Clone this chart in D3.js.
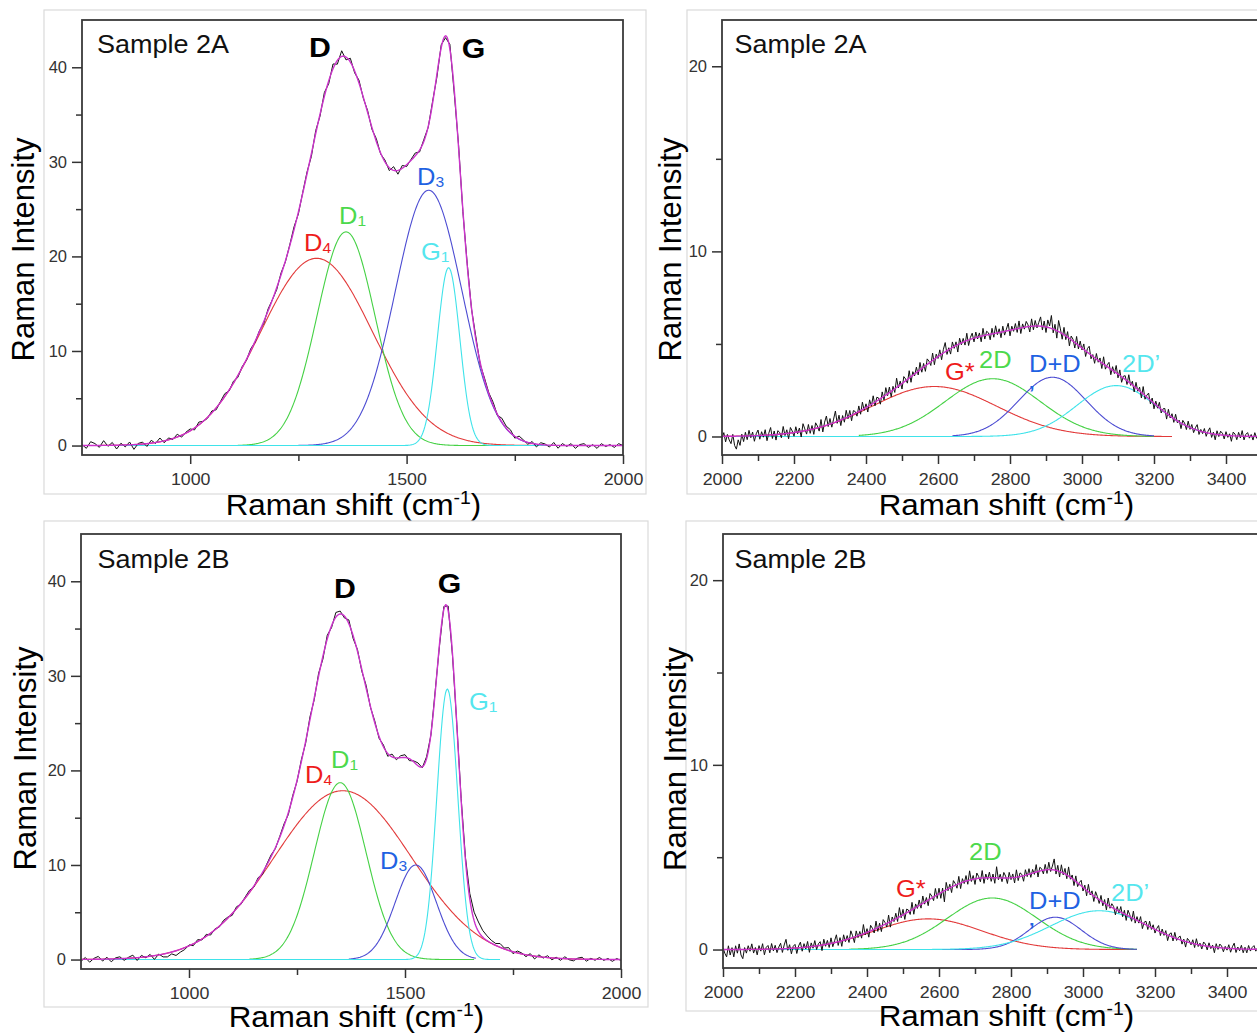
<!DOCTYPE html>
<html><head><meta charset="utf-8">
<script src="https://cdn.jsdelivr.net/npm/d3@7"></script>
<style>
body{margin:0;background:#fff}
svg{display:block}
text{font-family:"Liberation Sans",Arial,sans-serif}
</style></head>
<body><svg id="c" width="1257" height="1033"></svg>
<script>
// ---------------- DATA ----------------
// tick labels
const xTicksFirst = [1000, 1500, 2000];
const xMinorFirst = [1250, 1750];
const xTicksSecond = [2000, 2200, 2400, 2600, 2800, 3000, 3200, 3400];
const xMinorSecond = [2100, 2300, 2500, 2700, 2900, 3100, 3300, 3500];
const yTicksFirst = [0, 10, 20, 30, 40];
const yMinorFirst = [5, 15, 25, 35];
const yTicksSecond = [0, 10, 20];
const yMinorSecond = [5, 15];

// band labels (main, subscript)
const bandsFirst = [["D", "4"], ["D", "1"], ["D", "3"], ["G", "1"]];
const bandsSecond = [["G*", ""], ["2D", ""], ["D+D", ""], ["2D\u2019", ""]];

// Sample 2A, first order: fitted peaks (centre cm-1, height, FWHM cm-1, drawn range)
const centre2A1 = [1292, 1360, 1551, 1597];
const height2A1 = [19.8, 22.6, 27.0, 18.8];
const fwhm2A1 = [305, 158, 181, 61];
const from2A1 = [750, 1110, 1250, 750];
const to2A1 = [1790, 1700, 1800, 1900];
// measured minus fit (every 10 cm-1 from 750)
const resid2A1 = [
 0.1,-0.3,0.4,0.2,-0.2,0.5,-0.1,0.3,-0.4,0.2,
 -0.2,0.3,-0.5,0.1,0.2,-0.3,0.3,-0.1,0.4,-0.2,
 0.2,-0.1,0.3,-0.2,0.1,0.2,-0.2,0.3,0.0,-0.1,
 0.2,-0.2,0.1,0.3,-0.1,0.2,-0.2,0.1,-0.1,0.2,
 -0.1,0.1,-0.2,0.2,0.0,-0.2,0.2,-0.1,0.1,0.3,
 -0.2,0.1,0.2,-0.3,0.3,-0.2,0.4,-0.3,0.5,-0.4,
 0.6,-0.3,0.4,-0.2,0.3,-0.1,0.2,-0.2,0.3,-0.1,
 0.2,-0.3,0.4,-0.4,0.3,-0.2,0.1,0.3,-0.2,0.2,
 -0.1,0.2,-0.3,0.3,-0.2,0.5,-0.4,0.3,-0.2,0.2,
 -0.1,0.3,-0.2,0.2,0.1,0.3,-0.1,0.4,0.2,0.3,
 -0.2,0.3,0.1,-0.2,0.2,-0.3,0.2,0.1,-0.2,0.3,
 -0.3,0.2,-0.1,0.2,-0.3,0.1,0.2,-0.2,0.1,-0.3,
 0.2,-0.1,0.1,-0.2,0.2,0.0];

// Sample 2B, first order
const centre2B1 = [1356, 1350, 1525, 1598];
const height2B1 = [17.85, 18.7, 10.0, 28.6];
const fwhm2B1 = [374, 141, 112, 57];
const from2B1 = [750, 1140, 1370, 750];
const to2B1 = [1950, 1660, 1665, 1720];
const resid2B1 = [
 -0.2,0.2,-0.3,0.1,0.3,-0.2,0.2,-0.3,0.1,0.2,
 -0.2,0.1,0.3,-0.3,0.2,-0.1,0.2,-0.4,0.1,-0.3,
 -0.4,-0.2,-0.5,-0.3,-0.2,0.1,-0.2,0.2,-0.1,0.2,
 -0.2,0.1,-0.1,0.2,0.1,-0.2,0.2,-0.1,0.1,0.2,
 -0.1,0.2,-0.2,0.1,0.2,-0.1,0.1,0.2,-0.2,0.2,
 -0.1,0.2,-0.2,0.3,-0.2,0.3,-0.3,0.4,-0.2,0.5,
 0.3,-0.2,0.4,-0.3,0.2,-0.2,0.3,-0.1,0.2,-0.2,
 0.2,-0.3,0.3,-0.2,0.2,0.3,-0.2,0.1,0.3,-0.1,
 0.2,-0.1,0.2,-0.2,0.3,0.5,-0.2,0.1,0.2,0.3,
 0.6,0.9,1.0,0.7,0.5,0.3,0.2,0.4,0.1,0.3,
 -0.2,0.2,0.1,-0.2,0.2,-0.3,0.2,-0.1,0.2,-0.2,
 0.1,-0.2,0.2,-0.1,-0.2,0.1,0.2,-0.2,0.1,-0.1,
 0.2,-0.1,0.1,-0.2,0.1,-0.1];

// Sample 2A, second order
const centre2A2 = [2590, 2752, 2918, 3095];
const height2A2 = [2.7, 3.12, 3.2, 2.75];
const fwhm2A2 = [407, 311, 221, 259];
const from2A2 = [2000, 2380, 2640, 2000];
const to2A2 = [3250, 3200, 3200, 3350];
// measured minus fit (every 5 cm-1 from 2000)
const resid2A2 = [
 -0.1,0.2,-0.3,0.1,-0.2,-0.4,0.1,-0.5,-0.7,-0.2,
 -0.5,0.1,-0.3,0.2,-0.2,0.3,-0.1,0.2,-0.3,0.1,
 0.3,-0.2,0.2,-0.1,0.3,-0.3,0.1,0.4,-0.2,0.2,
 -0.3,0.2,0.1,-0.2,0.4,-0.1,0.2,-0.3,0.3,0.1,
 -0.2,0.3,-0.1,0.2,-0.3,0.4,0.1,-0.2,0.3,-0.2,
 0.2,-0.3,0.3,0.1,-0.2,0.4,-0.3,0.2,0.5,-0.1,
 0.3,-0.2,0.2,0.6,-0.1,0.3,-0.3,0.2,-0.2,0.4,
 -0.1,0.3,-0.3,0.2,0.1,-0.2,0.3,-0.2,0.4,-0.1,
 0.2,-0.3,0.3,-0.1,0.4,-0.2,0.2,0.1,-0.3,0.3,
 -0.2,0.4,-0.1,0.3,-0.3,0.2,-0.2,0.5,-0.1,0.2,
 -0.3,0.3,0.1,-0.2,0.4,-0.3,0.2,-0.1,0.3,-0.2,
 0.4,-0.2,0.2,-0.3,0.3,0.1,-0.2,0.4,-0.3,0.2,
 -0.1,0.3,-0.3,0.2,0.5,-0.2,0.1,-0.3,0.3,-0.1,
 0.2,-0.4,0.3,-0.1,0.2,-0.2,0.4,-0.3,0.1,0.3,
 -0.2,0.3,-0.1,0.2,-0.3,0.4,-0.2,0.2,0.1,-0.3,
 0.3,-0.2,0.4,-0.1,0.2,-0.3,0.3,-0.2,0.1,0.4,
 -0.3,0.2,-0.1,0.3,-0.2,0.4,-0.3,0.2,-0.1,0.3,
 0.1,-0.3,0.4,-0.2,0.3,-0.1,0.2,0.5,-0.2,0.3,
 -0.3,0.4,0.1,0.7,-0.2,0.3,-0.4,0.6,0.2,-0.3,
 0.4,-0.2,0.3,-0.4,0.2,0.1,-0.3,0.4,-0.2,0.3,
 -0.1,0.3,-0.3,0.2,0.4,-0.2,0.1,-0.3,0.3,-0.1,
 0.2,-0.3,0.4,-0.2,0.1,0.3,-0.3,0.2,-0.1,0.4,
 -0.2,0.3,-0.3,0.1,0.2,-0.2,0.4,-0.1,0.2,-0.3,
 0.3,-0.1,0.2,-0.3,0.4,-0.2,0.1,0.3,-0.2,0.2,
 -0.3,0.2,-0.1,0.3,-0.2,0.1,0.2,-0.3,0.3,-0.1,
 0.2,-0.2,0.3,-0.1,0.1,-0.3,0.2,0.1,-0.2,0.3,
 -0.1,0.2,-0.2,0.1,0.3,-0.2,0.1,-0.1,0.2,-0.2,
 0.1,0.3,-0.2,0.1,-0.3,0.2,-0.1,0.2,0.1,-0.2,
 0.2,-0.1,0.1,-0.3,0.2,0.1,-0.2,0.2,-0.1,0.3,
 -0.2,0.1,0.2,-0.1,0.1,-0.2,0.2,-0.1,0.1,-0.2,
 0.1];

// Sample 2B, second order
const centre2B2 = [2570, 2748, 2923, 3045];
const height2B2 = [1.66, 2.79, 1.75, 2.1];
const fwhm2B2 = [353, 294, 170, 318];
const from2B2 = [2000, 2350, 2570, 2000];
const to2B2 = [3150, 3150, 3150, 3140];
const resid2B2 = [
 0.1,-0.2,-0.4,0.2,-0.3,0.1,-0.4,0.2,-0.2,0.3,
 -0.3,-0.5,0.1,-0.2,0.2,-0.1,0.3,-0.2,0.1,-0.3,
 0.2,-0.1,0.3,-0.3,0.1,0.2,-0.2,0.3,-0.1,0.2,
 -0.2,0.1,0.3,-0.2,0.2,0.5,-0.1,0.2,-0.3,0.1,
 0.2,-0.3,0.1,0.3,-0.2,0.2,-0.1,0.3,-0.3,0.2,
 -0.1,0.3,-0.2,0.1,0.2,-0.3,0.3,-0.1,0.2,-0.2,
 0.3,-0.2,0.1,0.4,-0.2,0.2,-0.3,0.3,-0.1,0.2,
 -0.2,0.4,0.1,-0.3,0.3,-0.1,0.2,-0.2,0.5,-0.1,
 0.2,-0.3,0.3,0.1,-0.2,0.4,-0.2,0.2,-0.3,0.3,
 0.1,-0.2,0.4,-0.3,0.2,-0.1,0.3,-0.2,0.5,-0.1,
 0.3,-0.3,0.2,0.1,-0.2,0.4,-0.3,0.2,-0.1,0.3,
 -0.2,0.4,-0.1,0.2,-0.3,0.3,0.1,-0.2,0.4,-0.2,
 0.3,-0.3,0.2,-0.6,0.4,-0.1,0.2,-0.3,0.3,0.1,
 -0.2,0.4,-0.3,0.2,-0.1,0.3,-0.2,0.5,-0.1,0.2,
 -0.3,0.3,0.1,-0.2,0.4,-0.3,0.2,-0.1,0.3,-0.2,
 0.2,-0.3,0.6,-0.1,0.2,-0.2,0.3,0.1,-0.3,0.3,
 -0.1,0.2,-0.3,0.4,-0.2,0.2,0.1,-0.3,0.3,-0.1,
 0.3,-0.2,0.2,-0.1,0.4,-0.3,0.2,0.1,-0.2,0.3,
 -0.2,0.4,-0.1,0.2,0.6,-0.2,0.3,-0.3,0.4,-0.1,
 0.3,-0.2,0.5,-0.1,0.2,-0.3,0.3,-0.2,0.1,0.3,
 -0.2,0.2,-0.3,0.4,-0.1,0.2,-0.3,0.3,0.1,-0.2,
 0.3,-0.2,0.2,-0.3,0.4,-0.1,0.2,0.1,-0.3,0.2,
 -0.1,0.3,-0.2,0.2,-0.3,0.3,0.1,-0.2,0.4,-0.2,
 0.2,-0.1,0.3,-0.3,0.1,0.2,-0.2,0.3,-0.1,0.2,
 -0.2,0.1,0.3,-0.2,0.2,-0.1,0.2,-0.3,0.1,0.2,
 -0.2,0.3,-0.1,0.1,0.2,-0.2,0.1,-0.3,0.2,0.1,
 -0.1,0.2,-0.2,0.3,-0.1,0.1,-0.2,0.2,0.1,-0.2,
 0.2,-0.1,0.1,-0.3,0.2,-0.1,0.2,0.1,-0.2,0.1,
 -0.1,0.2,-0.2,0.1,0.3,-0.2,0.1,-0.1,0.2,-0.2,
 0.1,-0.2,0.2,-0.1,0.1,0.2,-0.1,0.1,-0.2,0.1,
 0.0];

// ---------------- STYLE / LAYOUT ----------------
const curveColors = ["#e23a3a", "#45d145", "#4c4cd2", "#3fe3ea"];
const labelColors = ["#ee1c1c", "#4cd94c", "#1f62e2", "#55e6ee"];
const FONT = '"Liberation Sans", Arial, sans-serif';
const SX = 1.08;

const svg = d3.select("#c");

function gauss(xv, c, h, w) {
  const d = xv - c;
  return h * Math.exp(-4 * Math.LN2 * d * d / (w * w));
}

function txt(g, x, y, size, color, weight, anchor, parts, sx) {
  const t = g.append("text")
    .attr("transform", `translate(${x},${y}) scale(${sx === undefined ? SX : sx},1)`)
    .attr("font-size", size).attr("fill", color)
    .attr("font-weight", weight).attr("text-anchor", anchor);
  parts.forEach(p => {
    const ts = t.append("tspan").text(p.t);
    if (p.size) ts.attr("font-size", p.size);
    if (p.dy) ts.attr("dy", p.dy);
  });
  return t;
}

const panels = [
  { id: "a1", frame: [82, 20, 623, 455], border: [44, 10, 646, 494], xd: [750, 2000], yd: [-1, 45],
    xt: xTicksFirst, xm: xMinorFirst, yt: yTicksFirst, ym: yMinorFirst,
    centre: centre2A1, height: height2A1, fwhm: fwhm2A1, from: from2A1, to: to2A1, resid: resid2A1, rstep: 10,
    bands: bandsFirst, sample: "Sample 2A", samplePos: [97, 53.3],
    bandPos: [[304, 251], [339, 224], [417, 185], [421, 259.5]],
    peakTags: [["D", 309, 56.7], ["G", 461.7, 57.5]],
    xTitle: [353.5, 515], yTitle: [33.5, 249.5] },
  { id: "a2", frame: [722, 20, 1262, 455], border: [687, 10, 1262, 494], xd: [2000, 3500], yd: [-1, 22.5],
    xt: xTicksSecond, xm: xMinorSecond, yt: yTicksSecond, ym: yMinorSecond,
    centre: centre2A2, height: height2A2, fwhm: fwhm2A2, from: from2A2, to: to2A2, resid: resid2A2, rstep: 5,
    bands: bandsSecond, sample: "Sample 2A", samplePos: [734.5, 53.3],
    bandPos: [[945, 380], [979, 368], [1029, 372], [1122, 372]],
    stray: [1029, 400],
    peakTags: [],
    xTitle: [1006.5, 515], yTitle: [681, 249.5] },
  { id: "b1", frame: [81, 534, 621, 969], border: [44, 521, 648, 1007], xd: [750, 2000], yd: [-1, 45],
    xt: xTicksFirst, xm: xMinorFirst, yt: yTicksFirst, ym: yMinorFirst,
    centre: centre2B1, height: height2B1, fwhm: fwhm2B1, from: from2B1, to: to2B1, resid: resid2B1, rstep: 10,
    bands: bandsFirst, sample: "Sample 2B", samplePos: [97.6, 567.7],
    bandPos: [[305, 783], [331, 768], [380, 869], [469, 710]],
    peakTags: [["D", 334, 598.3], ["G", 437.7, 593]],
    xTitle: [356.5, 1027], yTitle: [36, 758.5] },
  { id: "b2", frame: [723, 534, 1263, 968], border: [686, 521, 1263, 1011], xd: [2000, 3500], yd: [-1, 22.5],
    xt: xTicksSecond, xm: xMinorSecond, yt: yTicksSecond, ym: yMinorSecond,
    centre: centre2B2, height: height2B2, fwhm: fwhm2B2, from: from2B2, to: to2B2, resid: resid2B2, rstep: 5,
    bands: bandsSecond, sample: "Sample 2B", samplePos: [734.5, 567.7],
    bandPos: [[896, 897], [969, 860], [1029, 909], [1111, 901]],
    stray: [1029, 937],
    peakTags: [],
    xTitle: [1006.5, 1026], yTitle: [686, 759] }
];

function drawPanel(cfg) {
  const [x0, y0, x1, y1] = cfg.frame;
  const x = d3.scaleLinear().domain(cfg.xd).range([x0, x1]);
  const y = d3.scaleLinear().domain(cfg.yd).range([y1, y0]);
  const g = svg.append("g");

  const b = cfg.border;
  g.append("rect").attr("x", b[0]).attr("y", b[1]).attr("width", b[2] - b[0]).attr("height", b[3] - b[1])
    .attr("fill", "none").attr("stroke", "#dadada").attr("stroke-width", 1.2);

  const clipId = "clip-" + cfg.id;
  svg.append("clipPath").attr("id", clipId).append("rect")
    .attr("x", x0).attr("y", y0).attr("width", x1 - x0).attr("height", y1 - y0);
  const plot = g.append("g").attr("clip-path", `url(#${clipId})`);
  const line = d3.line().x(d => x(d[0])).y(d => y(d[1]));

  // fitted components
  cfg.centre.forEach((c, i) => {
    const pts = d3.range(cfg.from[i], cfg.to[i] + 0.01, 2).map(v => [v, gauss(v, c, cfg.height[i], cfg.fwhm[i])]);
    plot.append("path").attr("d", line(pts)).attr("fill", "none")
      .attr("stroke", curveColors[i]).attr("stroke-width", 1.1);
  });

  const fit = v => d3.sum(cfg.centre, (c, i) => gauss(v, c, cfg.height[i], cfg.fwhm[i]));
  // measured spectrum
  const meas = cfg.resid.map((r, i) => { const v = cfg.xd[0] + i * cfg.rstep; return [v, fit(v) + r]; });
  plot.append("path").attr("d", line(meas)).attr("fill", "none")
    .attr("stroke", "#111").attr("stroke-width", 1);
  // cumulative fit
  const env = d3.range(cfg.xd[0], cfg.xd[1] + 0.01, 2).map(v => [v, fit(v)]);
  plot.append("path").attr("d", line(env)).attr("fill", "none")
    .attr("stroke", "#cc33cc").attr("stroke-width", 1.4);

  // frame
  g.append("rect").attr("x", x0).attr("y", y0).attr("width", x1 - x0).attr("height", y1 - y0)
    .attr("fill", "none").attr("stroke", "#3a3a3a").attr("stroke-width", 1.8);

  // axes
  const styleAxis = a => {
    a.select(".domain").remove();
    a.attr("font-family", FONT).attr("font-size", 16.5);
    a.selectAll("line").attr("stroke", "#333").attr("stroke-width", 1.5);
    a.selectAll("text").attr("fill", "#333");
  };
  const xa = g.append("g").attr("transform", `translate(0,${y1})`)
    .call(d3.axisBottom(x).tickValues(cfg.xt).tickSize(9).tickPadding(9).tickFormat(d3.format("d")))
    .call(styleAxis);
  xa.selectAll("text").attr("transform", `scale(${SX},1)`);
  g.append("g").attr("transform", `translate(0,${y1})`)
    .call(d3.axisBottom(x).tickValues(cfg.xm.filter(v => v < cfg.xd[1])).tickSize(6).tickFormat(""))
    .call(styleAxis);
  g.append("g").attr("transform", `translate(${x0},0)`)
    .call(d3.axisLeft(y).tickValues(cfg.yt).tickSize(10).tickPadding(5).tickFormat(d3.format("d")))
    .call(styleAxis);
  g.append("g").attr("transform", `translate(${x0},0)`)
    .call(d3.axisLeft(y).tickValues(cfg.ym).tickSize(6).tickFormat(""))
    .call(styleAxis);

  // texts
  txt(g, cfg.samplePos[0], cfg.samplePos[1], 25, "#111", "normal", "start", [{ t: cfg.sample }]);
  cfg.peakTags.forEach(p => txt(g, p[1], p[2], 28, "#000", "bold", "start", [{ t: p[0] }]));
  cfg.bands.forEach((bd, i) => {
    const parts = [{ t: bd[0] }];
    if (bd[1]) parts.push({ t: bd[1], size: 15, dy: 2 });
    txt(g, cfg.bandPos[i][0], cfg.bandPos[i][1], 24.5, labelColors[i], "normal", "start", parts, 1.04);
  });
  if (cfg.stray) txt(g, cfg.stray[0], cfg.stray[1], 20, labelColors[2], "bold", "start", [{ t: "\u2019" }], 1);

  txt(g, cfg.xTitle[0], cfg.xTitle[1], 29, "#000", "normal", "middle",
    [{ t: "Raman shift (cm" }, { t: "-1", size: 18, dy: -11 }, { t: ")", dy: 11 }]);
  g.append("text").attr("transform", `translate(${cfg.yTitle[0]},${cfg.yTitle[1]}) rotate(-90)`)
    .attr("font-size", 31).attr("text-anchor", "middle").attr("fill", "#000").text("Raman Intensity");
}

panels.forEach(drawPanel);
</script>
</body></html>
